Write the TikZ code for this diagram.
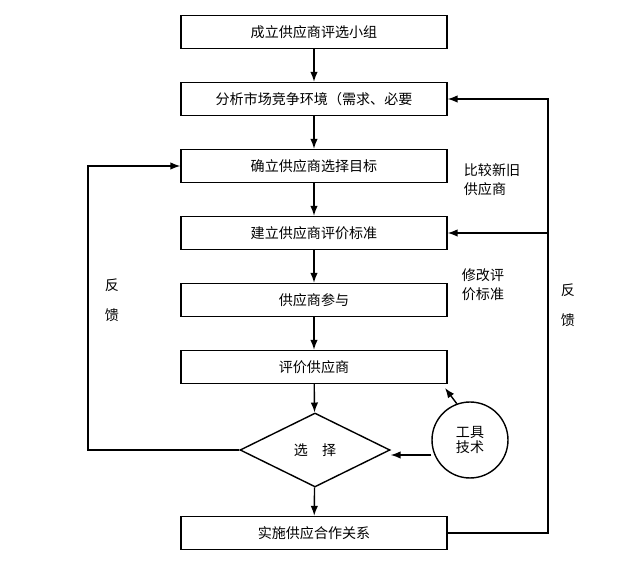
\documentclass[tikz,border=0pt]{standalone}
\usepackage{fontspec}
\setmainfont{Noto Sans CJK SC}
\usetikzlibrary{arrows.meta,shapes.geometric}
\tikzset{
  stage/.style={draw,thick,minimum width=5.32cm,minimum height=0.66cm,inner sep=0pt},
  flow/.style={thick,-{Latex[length=2mm]}},
  note/.style={align=left,font=\fontsize{8}{11}\selectfont}
}
\begin{document}
\begin{tikzpicture}[x=0.02cm,y=-0.02cm,font=\fontsize{8}{9}\selectfont]
  \useasboundingbox (0,0) rectangle (640,567);
  % main steps
  \node[stage] (team) at (314,32) {成立供应商评选小组};
  \node[stage] (market) at (314,99) {分析市场竞争环境（需求、必要};
  \node[stage] (goal) at (314,166) {确立供应商选择目标};
  \node[stage] (crit) at (314,233) {建立供应商评价标准};
  \node[stage] (join) at (314,300) {供应商参与};
  \node[stage] (eval) at (314,367) {评价供应商};
  \node[draw,thick,diamond,aspect=2,minimum width=3cm,minimum height=1.48cm,inner sep=0pt] (pick) at (315,450) {选\quad 择};
  \node[stage] (impl) at (314,533) {实施供应合作关系};
  \node[draw,thick,circle,minimum size=1.52cm,align=center] (tool) at (470,440) {工具\\技术};
  % flow down
  \draw[flow] (team) -- (market);
  \draw[flow] (market) -- (goal);
  \draw[flow] (goal) -- (crit);
  \draw[flow] (crit) -- (join);
  \draw[flow] (join) -- (eval);
  \draw[flow] (eval) -- (pick);
  \draw[flow] (pick) -- (impl);
  % tools
  \coordinate (te) at (445,388);
  \draw[flow] (tool.110) -- (te);
  \draw[flow] (tool.west |- 0,455) -- (pick.east |- 0,455);
  % feedback left
  \coordinate (lb) at (88,450);
  \draw[flow] (pick.west) -- (lb) |- (goal.west);
  % feedback right
  \coordinate (rb) at (548,533);
  \coordinate (rt) at (548,99);
  \draw[flow] (impl.east) -- (rb) -- (rt) -- (market.east);
  \coordinate (rm) at (548,233);
  \draw[flow] (rm) -- (crit.east);
  % labels
  \node[note] (fbl) at (112,300) {反\\[6pt]馈};
  \node[note] (fbr) at (568,305) {反\\[6pt]馈};
  \node[note] (cmp) at (492,180) {比较新旧\\供应商};
  \node[note] (mod) at (483,285) {修改评\\价标准};
\end{tikzpicture}
\end{document}
